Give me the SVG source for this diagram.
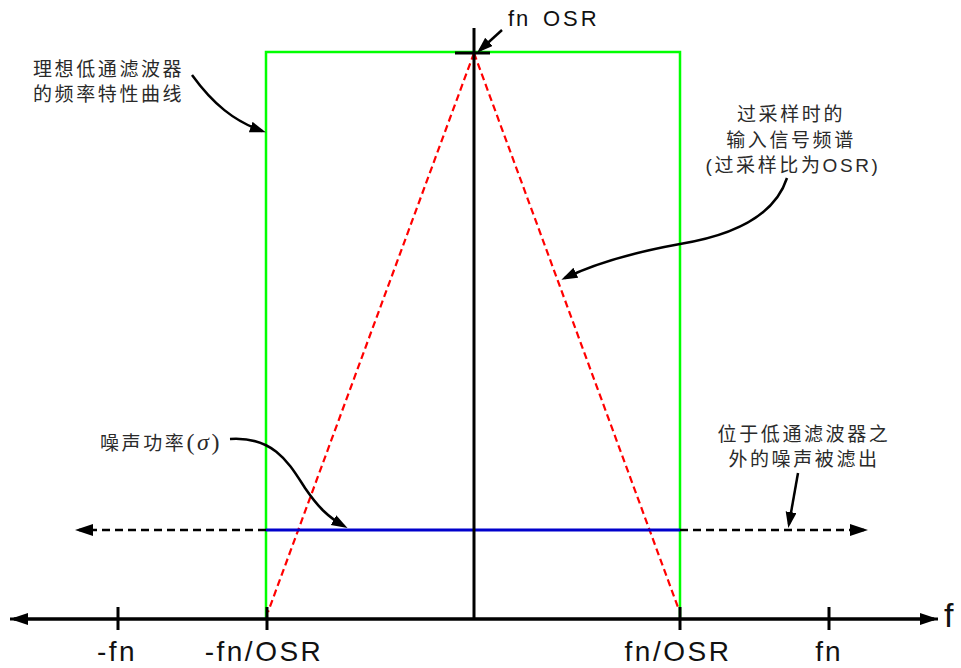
<svg xmlns="http://www.w3.org/2000/svg" width="961" height="668" viewBox="0 0 961 668">
<style>
.cjk{font-family:"Liberation Sans","Noto Sans CJK SC",sans-serif;font-size:19px;fill:#2a2a2a;letter-spacing:2.6px}
.lat{font-family:"Liberation Sans",Arial,sans-serif;fill:#111}
.ax{stroke:#000;stroke-width:3;fill:none}
.ptr{stroke:#000;stroke-width:2.5;fill:none}
.dash{stroke:#000;stroke-width:2.5;stroke-dasharray:8 5;fill:none}
</style>
<defs>
<marker id="ah" markerUnits="userSpaceOnUse" markerWidth="20" markerHeight="14" refX="14" refY="6" orient="auto" viewBox="0 0 20 14">
<path d="M0,0 L18,6 L0,12 z" fill="#000"/>
</marker>
<marker id="ap" markerUnits="userSpaceOnUse" markerWidth="20" markerHeight="14" refX="12" refY="5.5" orient="auto" viewBox="0 0 20 14">
<path d="M0,0 L16,5.5 L0,11 z" fill="#000"/>
</marker>
</defs>
<rect width="961" height="668" fill="#fff"/>

<g id="filter">
<polyline points="266,618 266,52 680,52 680,618" fill="none" stroke="#00FF00" stroke-width="2.5"/>
</g>
<g id="spectrum">
<path d="M474,53 L268,612 M474,53 L679,610" fill="none" stroke="#FF0000" stroke-width="2.2" stroke-dasharray="7 4"/>
</g>
<g id="noise">
<line x1="266" y1="530" x2="680" y2="530" stroke="#0000CC" stroke-width="3"/>
</g>

<g id="connectors">
<line class="dash" x1="266" y1="530" x2="79" y2="530" marker-end="url(#ah)"/>
<line class="dash" x1="680" y1="530" x2="864" y2="530" marker-end="url(#ah)"/>
<line class="ax" x1="474" y1="28" x2="474" y2="618"/>
<line class="ax" x1="455" y1="53" x2="490" y2="53"/>
<line class="ax" x1="938" y1="619" x2="14" y2="619" marker-end="url(#ah)"/>
<line class="ax" x1="10" y1="619" x2="934" y2="619" marker-end="url(#ah)"/>
<line class="ax" x1="118" y1="607" x2="118" y2="630"/>
<line class="ax" x1="267" y1="607" x2="267" y2="630"/>
<line class="ax" x1="680" y1="607" x2="680" y2="630"/>
<line class="ax" x1="829" y1="607" x2="829" y2="630"/>
<line class="ptr" x1="502" y1="30" x2="480" y2="50" marker-end="url(#ap)"/>
<path class="ptr" d="M192,75 C213,104 234,121 262,131" marker-end="url(#ap)"/>
<path class="ptr" d="M787,178 C775,215 735,235 680,244 C630,253 592,265 565,278" marker-end="url(#ap)"/>
<path class="ptr" d="M230,439 C275,436 290,465 305,488 C318,507 328,517 344,526" marker-end="url(#ap)"/>
<line class="ptr" x1="798" y1="473" x2="789" y2="524" marker-end="url(#ap)"/>
</g>

<g id="label-top">
<text class="lat" x="508" y="26" font-size="22" letter-spacing="2">fn</text>
<text class="lat" x="543" y="26" font-size="22" letter-spacing="3">OSR</text>
</g>
<g id="label-filter">
<text class="cjk" x="33" y="76">理想低通滤波器</text>
<text class="cjk" x="33" y="101">的频率特性曲线</text>
</g>
<g id="label-spectrum">
<text class="cjk" x="791" y="121" text-anchor="middle">过采样时的</text>
<text class="cjk" x="791" y="147" text-anchor="middle">输入信号频谱</text>
<text class="cjk" x="793" y="172" text-anchor="middle" letter-spacing="1.3">(过采样比为OSR)</text>
</g>
<g id="label-noise">
<text class="cjk" x="100" y="450" letter-spacing="1">噪声功率<tspan font-family="Liberation Serif,serif" font-size="24">(<tspan font-style="italic">σ</tspan>)</tspan></text>
</g>
<g id="label-out">
<text class="cjk" x="804" y="441" text-anchor="middle">位于低通滤波器之</text>
<text class="cjk" x="804" y="466" text-anchor="middle">外的噪声被滤出</text>
</g>
<g id="axis-labels">
<text class="lat" x="117" y="661" font-size="28" letter-spacing="2.5" text-anchor="middle">-fn</text>
<text class="lat" x="264" y="661" font-size="28" letter-spacing="2.5" text-anchor="middle">-fn/OSR</text>
<text class="lat" x="678" y="661" font-size="28" letter-spacing="2.5" text-anchor="middle">fn/OSR</text>
<text class="lat" x="829" y="661" font-size="28" letter-spacing="2" text-anchor="middle">fn</text>
<text class="lat" x="944" y="627" font-size="34">f</text>
</g>
</svg>
